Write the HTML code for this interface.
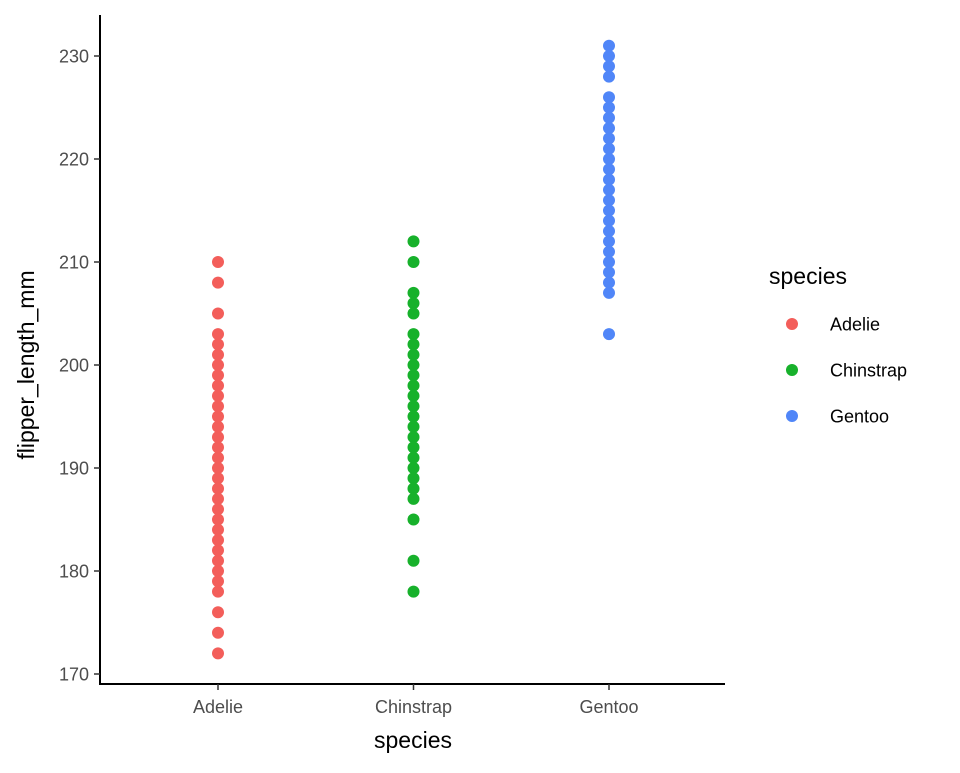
<!DOCTYPE html>
<html><head><meta charset="utf-8"><style>
body{margin:0;background:#fff;font-family:"Liberation Sans",sans-serif;}
text{font-family:"Liberation Sans",sans-serif;}
</style></head><body>
<svg id="chart" width="960" height="768"></svg>
<script>
const categories=["Adelie","Chinstrap","Gentoo"];
const colors=["#F35E5A","#17B12B","#5086F8"];
const adelieValues=[210,208,205,203,202,201,200,199,198,197,196,195,194,193,192,191,190,189,188,187,186,185,184,183,182,181,180,179,178,176,174,172];
const chinstrapValues=[212,210,207,206,205,203,202,201,200,199,198,197,196,195,194,193,192,191,190,189,188,187,185,181,178];
const gentooValues=[231,230,229,228,226,225,224,223,222,221,220,219,218,217,216,215,214,213,212,211,210,209,208,207,203];
const yTicks=[170,180,190,200,210,220,230];
const NS="http://www.w3.org/2000/svg";
const svg=document.getElementById('chart');
function y(v){return 674-(v-170)*(674-56)/60;}
function x(i){return 218+i*195.5;}
function mk(t,a,p){const e=document.createElementNS(NS,t);for(const k in a)e.setAttribute(k,a[k]);(p||svg).appendChild(e);return e;}
let e;
e=mk('line',{x1:100,y1:15,x2:100,y2:685,stroke:'#000','stroke-width':2});


e=mk('line',{x1:99,y1:684,x2:725,y2:684,stroke:'#000','stroke-width':2});


yTicks.forEach(t=>{
 mk('line',{x1:94,y1:y(t),x2:100,y2:y(t),stroke:'#333','stroke-width':1.5});
 e=mk('text',{x:89,y:y(t)+6.5,'text-anchor':'end','font-size':18,fill:'#4d4d4d'});e.textContent=t;
 
 
});
categories.forEach((c,i)=>{
 mk('line',{x1:x(i),y1:684,x2:x(i),y2:690,stroke:'#333','stroke-width':1.5});
 e=mk('text',{x:x(i),y:713,'text-anchor':'middle','font-size':18,fill:'#4d4d4d'});e.textContent=c;
 
 
});
e=mk('text',{x:413,y:748,'text-anchor':'middle','font-size':23});e.textContent='species';


e=mk('text',{x:0,y:0,'text-anchor':'middle','font-size':23,transform:'translate(34,365) rotate(-90)'});e.textContent='flipper_length_mm';


[adelieValues,chinstrapValues,gentooValues].forEach((vals,i)=>{
 vals.forEach(v=>{
  e=mk('circle',{cx:x(i),cy:y(v),r:6,fill:colors[i]});
  
  
 });
});
e=mk('text',{x:769,y:284,'font-size':23});e.textContent='species';


categories.forEach((c,i)=>{
 const ly=324+i*46;
 e=mk('circle',{cx:792,cy:ly,r:6,fill:colors[i]});
 
 
 e=mk('text',{x:830,y:ly+6.5,'font-size':18});e.textContent=c;
 
 
});
</script>
</body></html>
